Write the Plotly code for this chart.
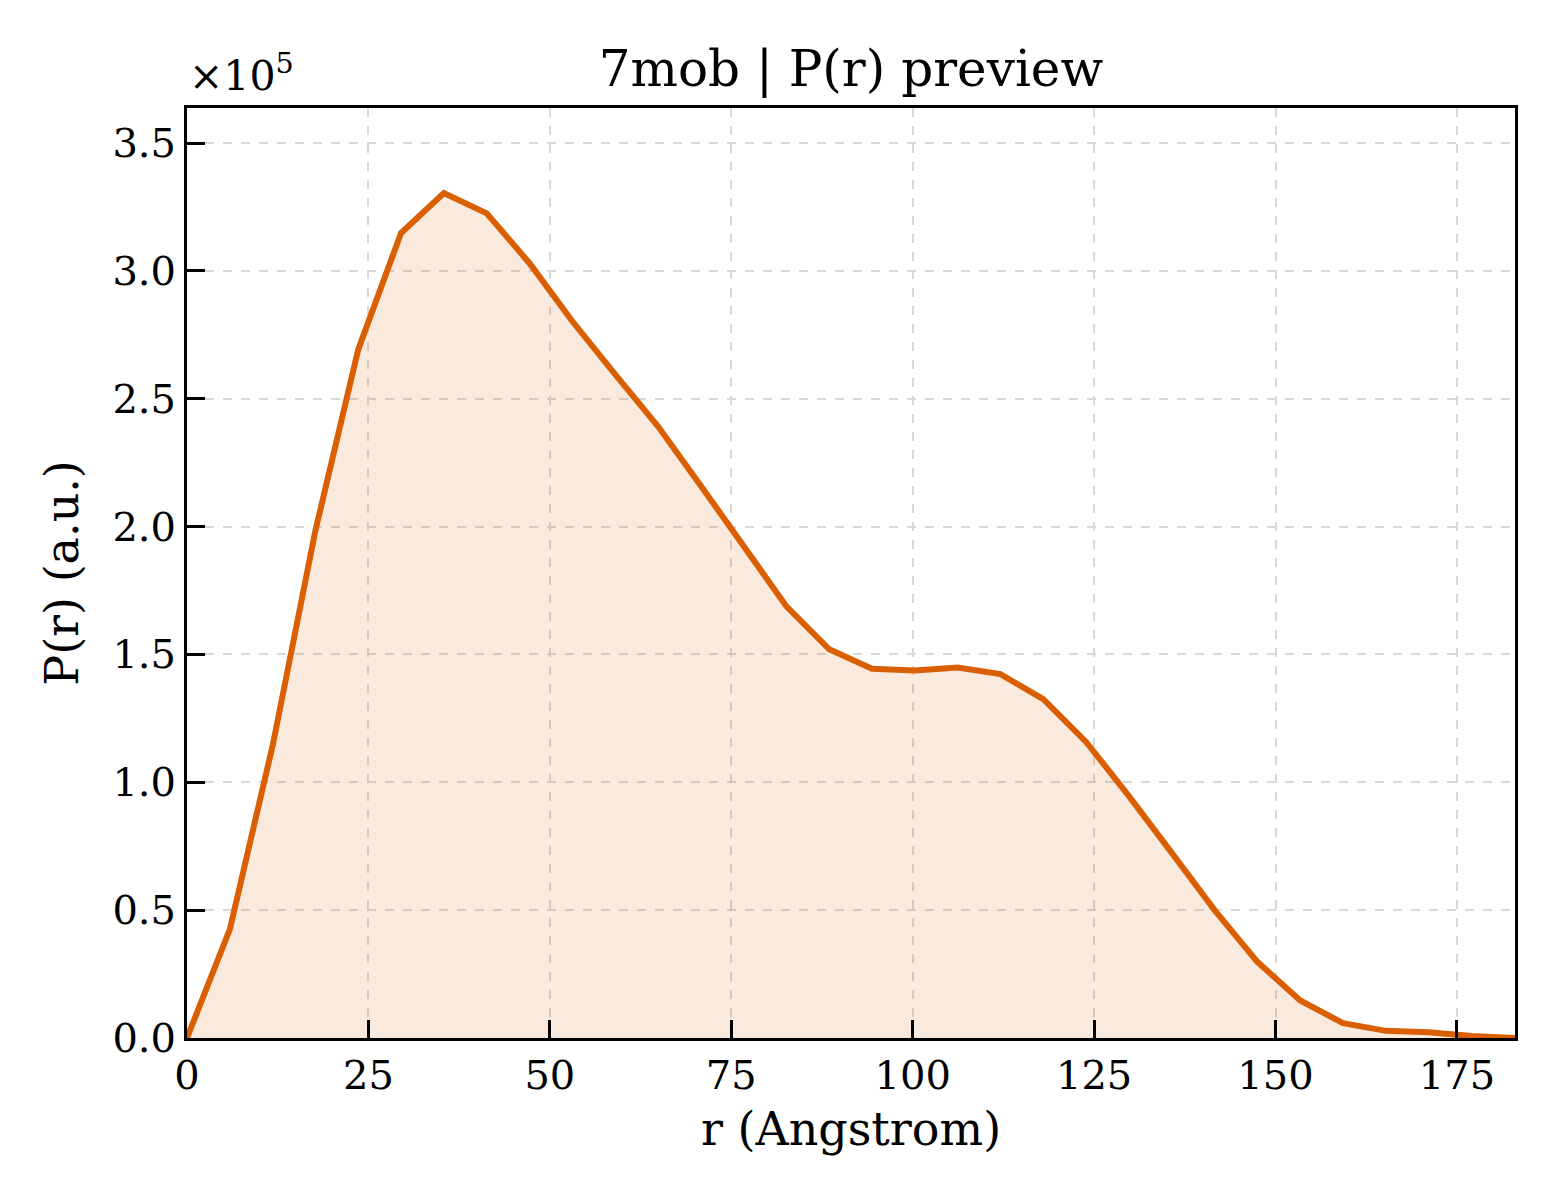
import plotly.graph_objects as go

# P(r) preview for 7mob, values in units of 1e5
r_angstrom = [0.0, 5.9, 11.8, 17.7, 23.6, 29.5, 35.4, 41.3, 47.2, 53.1, 59.0,
              64.9, 70.8, 76.7, 82.6, 88.5, 94.4, 100.3, 106.2, 112.1, 118.0,
              123.9, 129.8, 135.7, 141.6, 147.5, 153.4, 159.3, 165.2, 171.1,
              177.0, 183.0]
pr_e5 = [0.0, 0.425, 1.143, 1.985, 2.693, 3.148, 3.304, 3.225, 3.030, 2.803,
         2.595, 2.392, 2.160, 1.920, 1.688, 1.520, 1.444, 1.437, 1.449, 1.423,
         1.325, 1.158, 0.946, 0.724, 0.500, 0.298, 0.147, 0.058, 0.028, 0.022,
         0.008, 0.0]

x_ticks = [0, 25, 50, 75, 100, 125, 150, 175]
y_ticks = [0.0, 0.5, 1.0, 1.5, 2.0, 2.5, 3.0, 3.5]
y_tick_text = ["%.1f" % v for v in y_ticks]

font_family = "DejaVu Serif"
orange = "#D95F02"

fig = go.Figure()
fig.add_trace(go.Scatter(
    x=r_angstrom, y=pr_e5, mode="lines",
    line=dict(color=orange, width=6),
    fill="tozeroy", fillcolor="rgba(217,95,2,0.13)",
    showlegend=False,
))

axis_common = dict(
    showline=True, linecolor="black", linewidth=3, mirror=True,
    ticks="inside", ticklen=18, tickwidth=2.5, tickcolor="black",
    showgrid=True, gridcolor="#d8d8d8", gridwidth=1.5, griddash="dash",
    zeroline=False,
    tickfont=dict(family=font_family, size=40, color="black"),
    title_font=dict(family=font_family, size=46, color="black"),
)

fig.update_xaxes(range=[0, 183], tickvals=x_ticks, title_text="r (Angstrom)",
                 title_standoff=16, **axis_common)
fig.update_yaxes(range=[0, 3.637], tickvals=y_ticks, ticktext=y_tick_text,
                 title_text="P(r) (a.u.)", title_standoff=20, **axis_common)

fig.add_annotation(text="×10<sup>5</sup>", xref="paper", yref="paper",
                   x=0, y=1, xanchor="left", yanchor="bottom", yshift=6,
                   xshift=0, showarrow=False,
                   font=dict(family=font_family, size=41, color="black"))

# page body adds an 8px offset, so margins are shifted to compensate
fig.update_layout(
    width=1560, height=1200,
    margin=dict(l=179, r=53, t=100, b=170),
    paper_bgcolor="white", plot_bgcolor="white",
    title=dict(text="7mob | P(r) preview", x=851 / 1560 - 8 / 1560,
               xanchor="center", y=1 - 60 / 1200, yanchor="middle",
               font=dict(family=font_family, size=50, color="black")),
)

fig.write_html("out.html")
